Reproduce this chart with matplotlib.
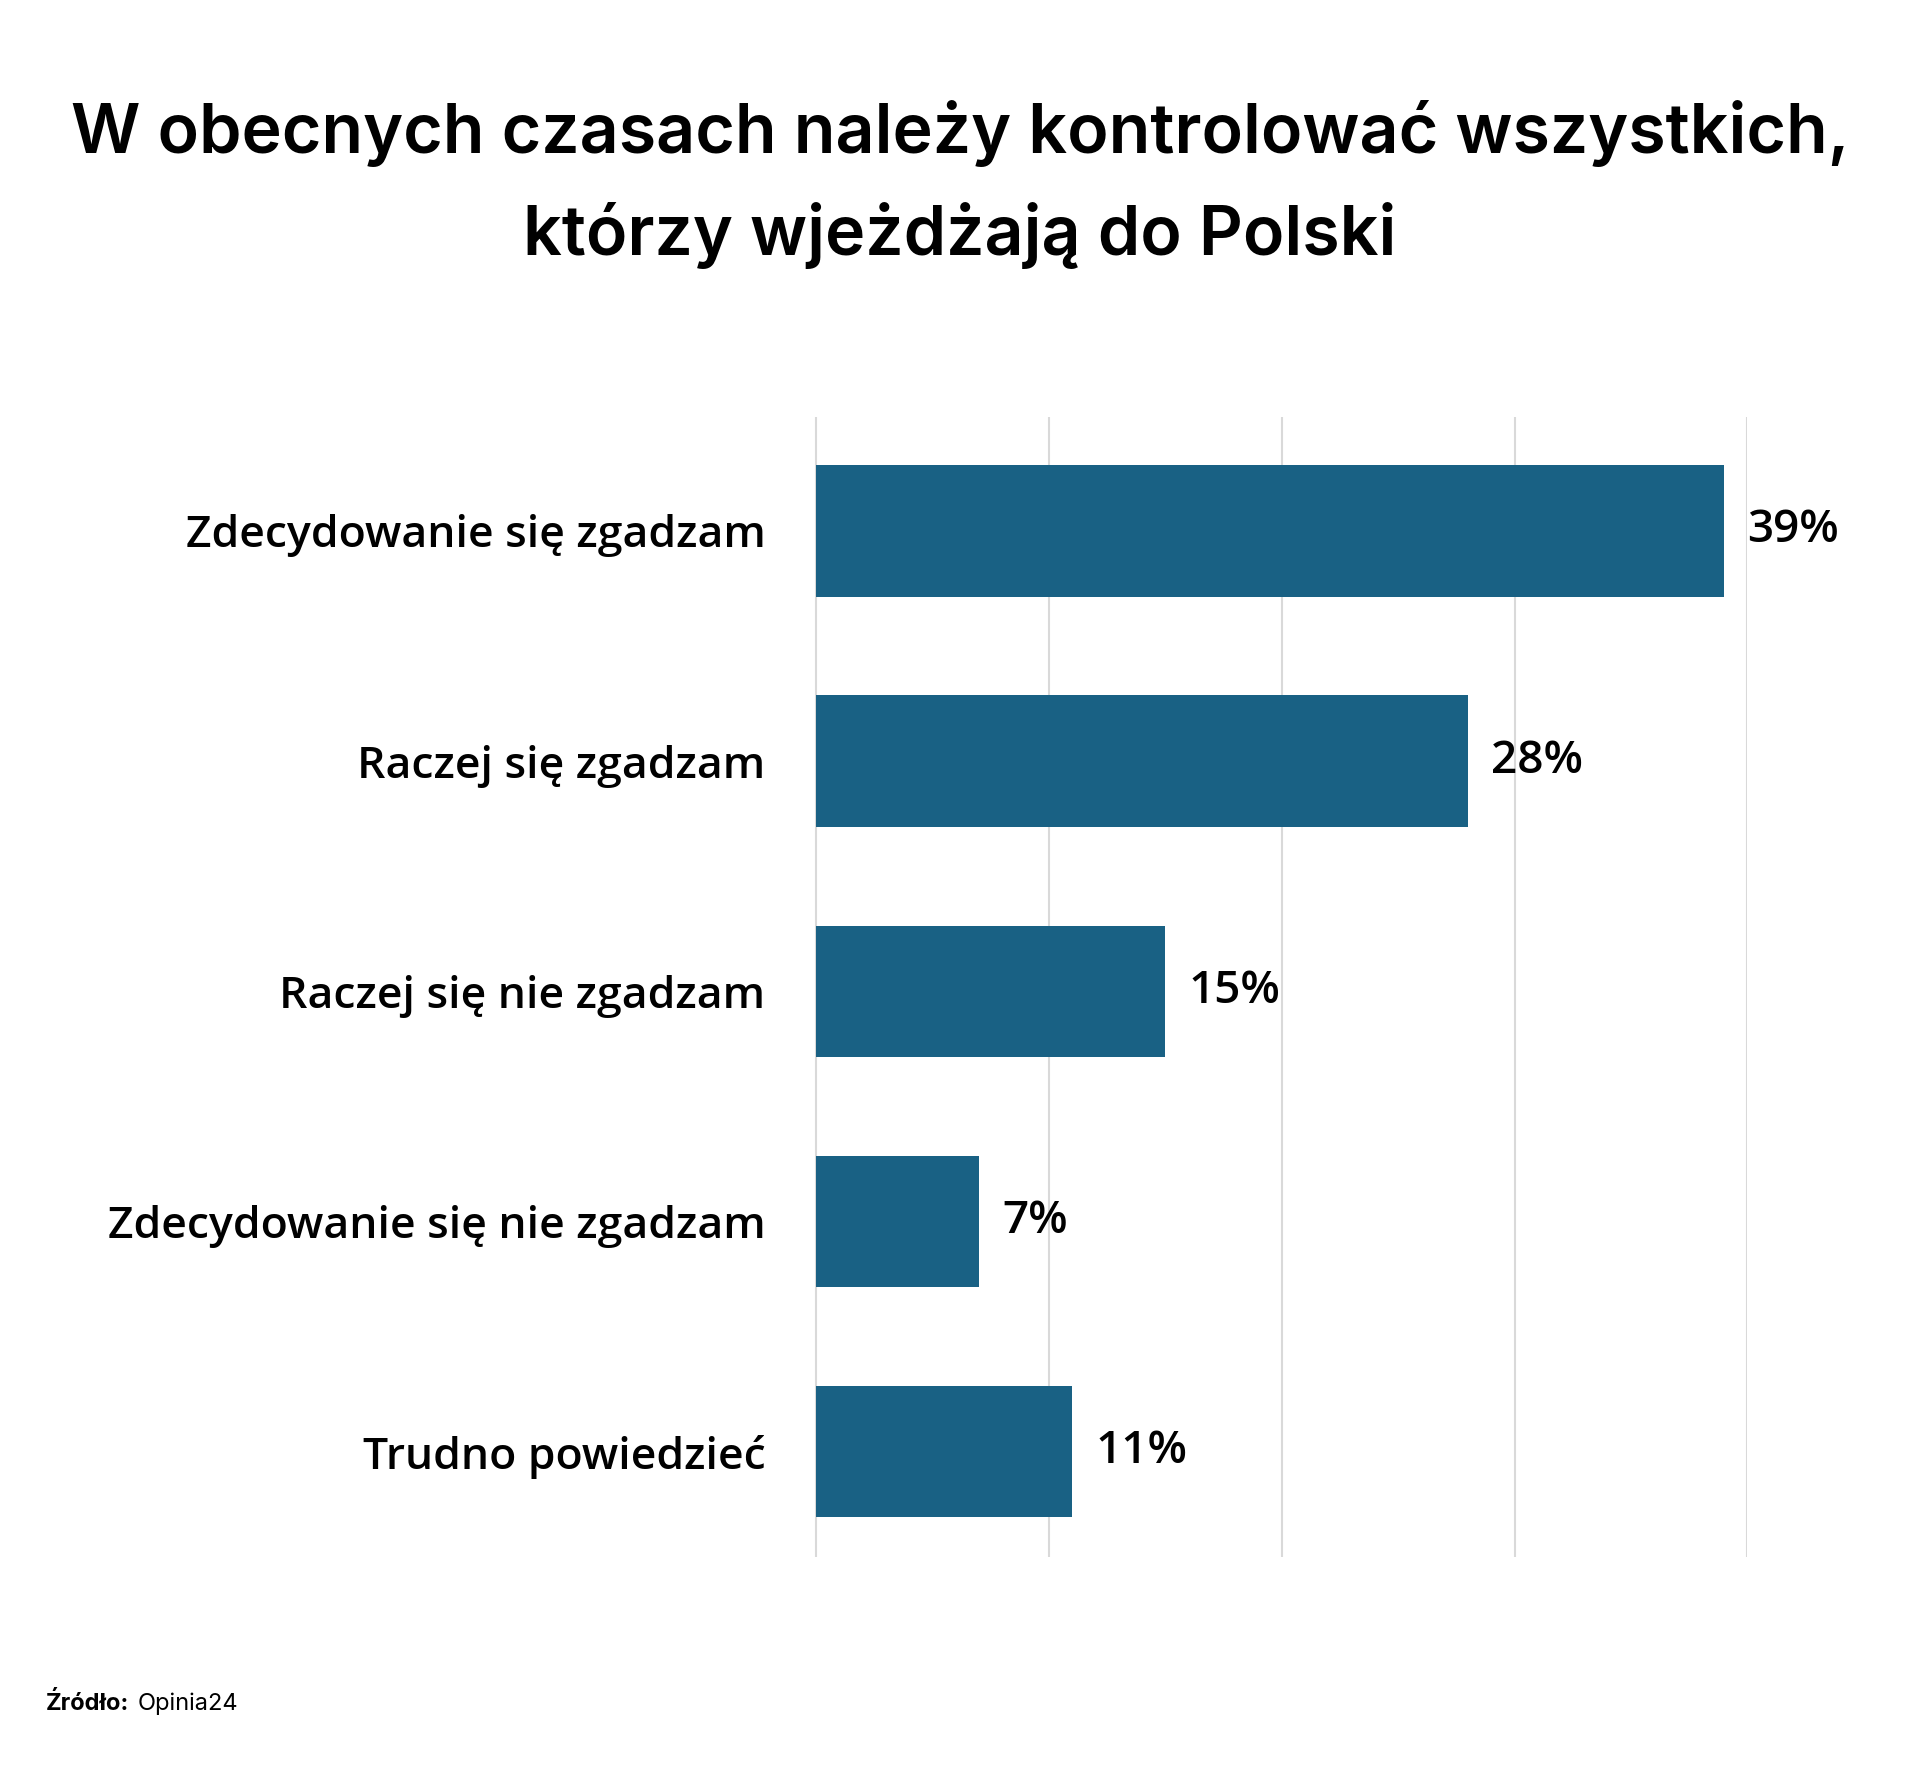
import matplotlib
matplotlib.use("Agg")
import matplotlib.pyplot as plt

categories = ["Zdecydowanie się zgadzam", "Raczej się zgadzam", "Raczej się nie zgadzam",
              "Zdecydowanie się nie zgadzam", "Trudno powiedzieć"]
values = [39, 28, 15, 7, 11]
labels = ["39%", "28%", "15%", "7%", "11%"]

fig = plt.figure(figsize=(19.2, 17.82), dpi=100)
ax = fig.add_axes([0.424, 0.126, 0.486, 0.640])
y = list(range(len(categories)))
ax.barh(y, values, height=0.57, color="#196184", zorder=3)
ax.set_ylim(4.46, -0.495)
ax.set_xlim(-0.1, 40)
ax.set_xticks([0, 10, 20, 30, 40])
ax.grid(axis="x", color="#d9d9d9", linewidth=1.5, zorder=0)
ax.tick_params(axis="x", labelbottom=False, length=0)
ax.tick_params(axis="y", length=0, pad=35)
ax.set_yticks(y)
ax.set_yticklabels(categories, fontsize=32, fontweight="semibold", family="Open Sans")
for s in ax.spines.values():
    s.set_visible(False)
for yi, v, l in zip(y, values, labels):
    ax.text(v + 1, yi, l, va="center", ha="left", fontsize=33, fontweight="semibold", family="Open Sans")

fig.text(0.5, 0.925, "W obecnych czasach należy kontrolować wszystkich,", ha="center", va="center",
         fontsize=49, fontweight="semibold", family="Inter")
fig.text(0.5, 0.868, "którzy wjeżdżają do Polski", ha="center", va="center",
         fontsize=49, fontweight="semibold", family="Inter")
fig.text(0.024, 0.044, "Źródło:", ha="left", va="center", fontsize=17, fontweight="bold", family="Inter")
fig.text(0.0715, 0.044, "Opinia24", ha="left", va="center", fontsize=17, family="Inter")
fig.savefig("out.png", dpi=100, facecolor="white")
